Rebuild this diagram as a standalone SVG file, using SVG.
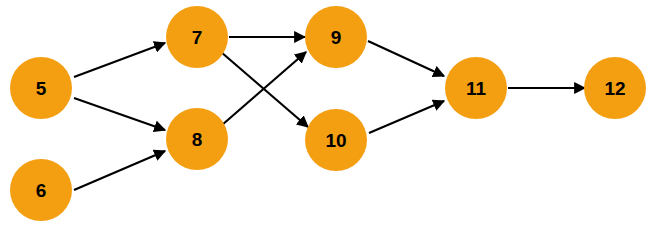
<svg xmlns="http://www.w3.org/2000/svg" width="654" height="227" viewBox="0 0 654 227">
<defs>
<style>
.n circle{fill:#F49F12}
.n text{font-family:"Liberation Sans",Arial,sans-serif;font-weight:bold;font-size:19px;fill:#000;text-anchor:middle;dominant-baseline:central}
.e line{stroke:#000;stroke-width:2.2;marker-end:url(#ah)}
</style>
<marker id="ah" viewBox="0 0 10 10" refX="9" refY="5" markerWidth="5.5" markerHeight="5.5" orient="auto" markerUnits="strokeWidth">
<path d="M0,0 L10,5 L0,10 z" fill="#000"/>
</marker>
</defs>
<rect width="654" height="227" fill="#fff"/>
<g id="edges" class="e">
<line x1="74" y1="77" x2="165" y2="43"/>
<line x1="74" y1="98" x2="165" y2="130"/>
<line x1="74" y1="190" x2="165" y2="151"/>
<line x1="229" y1="37" x2="305" y2="37"/>
<line x1="221" y1="52" x2="308" y2="127"/>
<line x1="222" y1="125" x2="306" y2="52"/>
<line x1="368" y1="41" x2="444" y2="76"/>
<line x1="369" y1="133" x2="444" y2="101"/>
<line x1="508" y1="88" x2="585" y2="88"/>
</g>
<g id="n5" class="n"><circle cx="41" cy="88" r="31"/><text x="41" y="88">5</text></g>
<g id="n6" class="n"><circle cx="41" cy="190" r="31"/><text x="41" y="190">6</text></g>
<g id="n7" class="n"><circle cx="197" cy="37" r="31"/><text x="197" y="37">7</text></g>
<g id="n8" class="n"><circle cx="197" cy="139" r="31"/><text x="197" y="139">8</text></g>
<g id="n9" class="n"><circle cx="336" cy="37" r="31"/><text x="336" y="37">9</text></g>
<g id="n10" class="n"><circle cx="336" cy="140" r="31"/><text x="336" y="140">10</text></g>
<g id="n11" class="n"><circle cx="476" cy="88" r="31"/><text x="476" y="88">11</text></g>
<g id="n12" class="n"><circle cx="615" cy="88" r="31"/><text x="615" y="88">12</text></g>
</svg>
